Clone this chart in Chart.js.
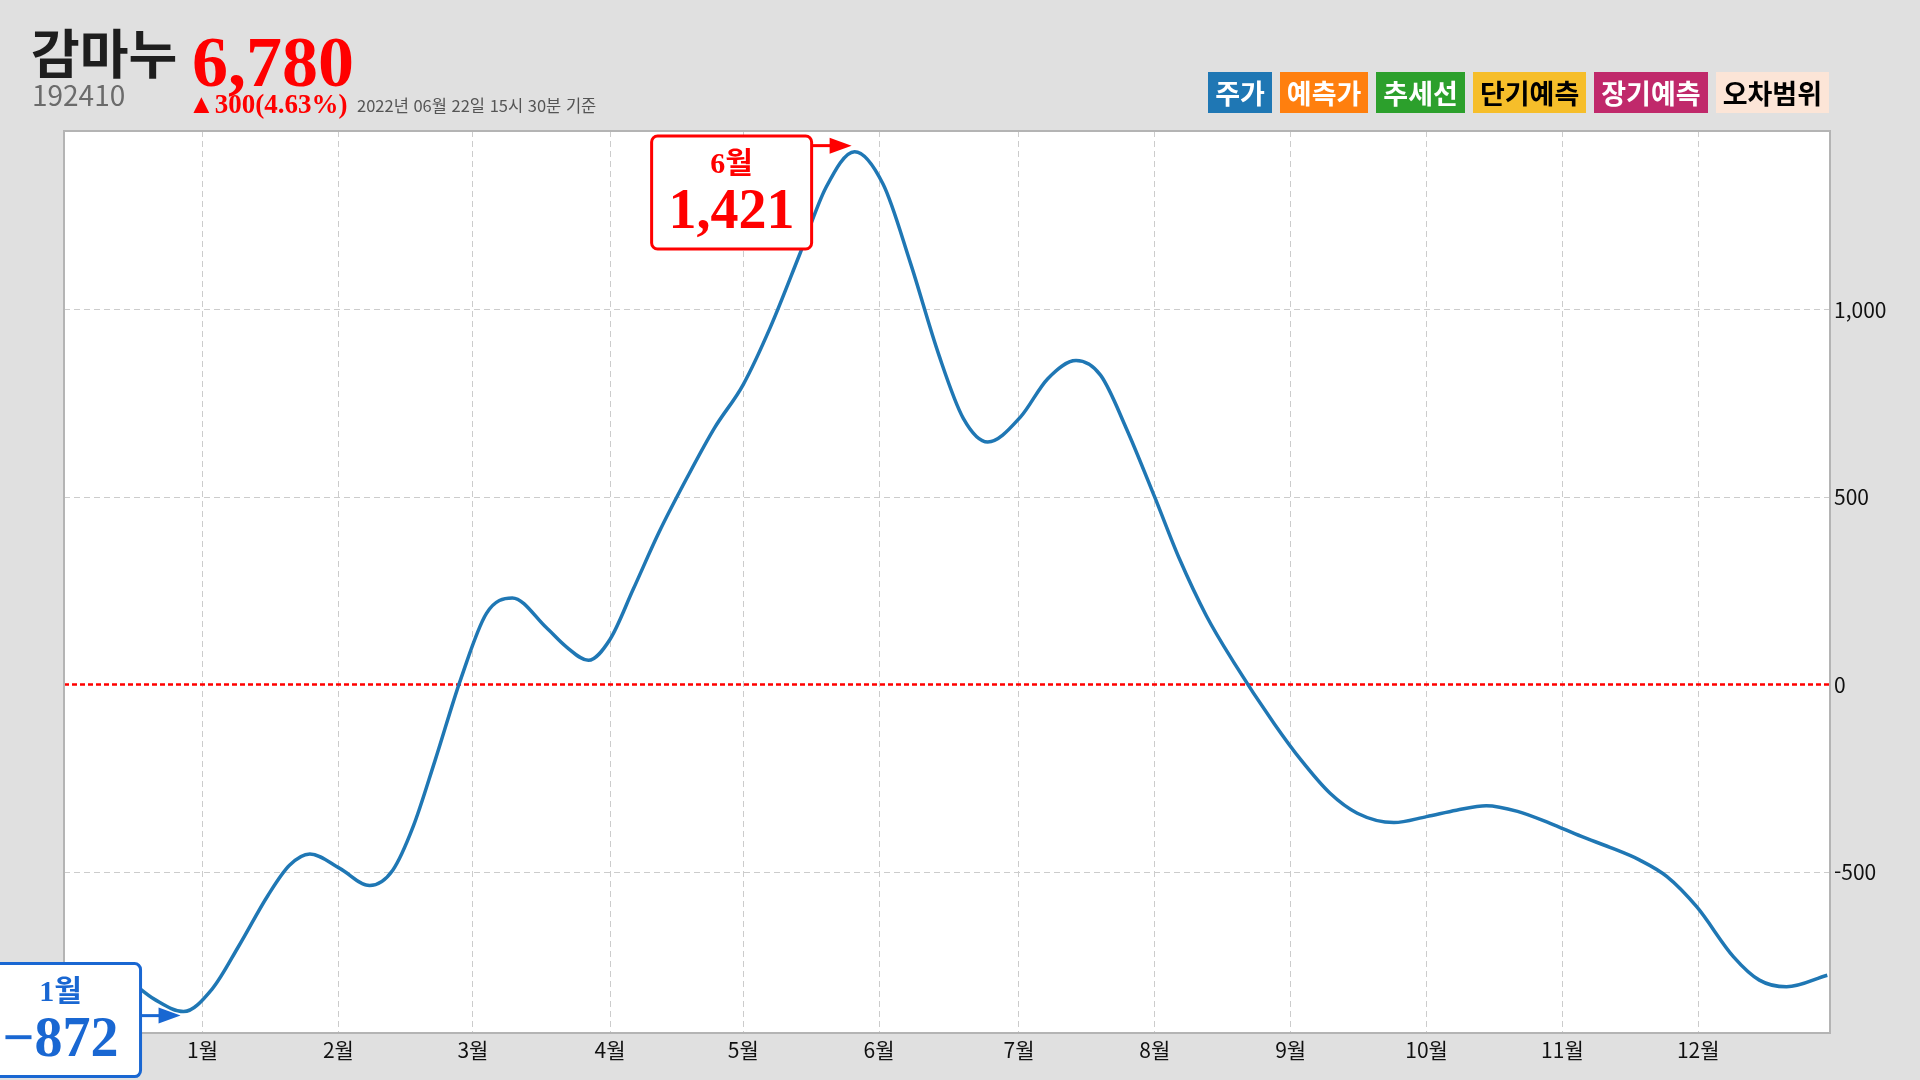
<!DOCTYPE html>
<html lang="ko">
<head>
<meta charset="utf-8">
<title>감마누 192410</title>
<script src="https://cdn.jsdelivr.net/npm/chart.js@4.4.1/dist/chart.umd.min.js"></script>
<style>
    html, body { margin: 0; padding: 0; background: #e0e0e0; }
    #wrap { position: relative; width: 1920px; height: 1080px; overflow: hidden;
            font-family: "Noto Sans CJK KR", "Noto Sans", sans-serif; }
    #chart { position: absolute; left: 0; top: 0; }
    .abs { position: absolute; white-space: nowrap; line-height: 1; }
    #name { left: 31px; top: 25px; font-size: 53px; font-weight: 700; color: #1e1e1e; }
    #code { left: 32px; top: 80px; font-size: 28px; color: #6b6b6b; }
    #price { left: 192px; top: 21px; font: bold 72px "Liberation Serif", serif; color: #ff0000; }
    #change { left: 188px; top: 89px; font: bold 27px "Liberation Serif", serif; color: #ff0000; }
    #stamp { left: 357px; top: 97px; font-size: 16.5px; color: #555555; }
    #legend { position: absolute; right: 91px; top: 72px; display: flex; gap: 8px; }
    #legend span { height: 41px; line-height: 41px; padding: 0 7px; font-size: 27px; font-weight: 700; }
</style>
</head>
<body>
<div id="wrap">
    <canvas id="chart" width="1920" height="1080"></canvas>
    <div class="abs" id="name">감마누</div>
    <div class="abs" id="code">192410</div>
    <div class="abs" id="price">6,780</div>
    <div class="abs" id="change">▲300(4.63%)</div>
    <div class="abs" id="stamp">2022년 06월 22일 15시 30분 기준</div>
    <div id="legend">
        <span style="background:#1f77b4;color:#fff">주가</span>
        <span style="background:#ff7f0e;color:#fff">예측가</span>
        <span style="background:#2ca02c;color:#fff">추세선</span>
        <span style="background:#f6be2a;color:#000">단기예측</span>
        <span style="background:#c0296b;color:#fff">장기예측</span>
        <span style="background:#fce5d7;color:#000">오차범위</span>
    </div>
</div>
<script>
// Month tick positions (x units) and their labels
const monthTicks = [1.02, 2.02, 3.01, 4.02, 5.0, 6.0, 7.03, 8.03, 9.03, 10.03, 11.03, 12.03];
const monthLabels = ['1월', '2월', '3월', '4월', '5월', '6월', '7월', '8월', '9월', '10월', '11월', '12월'];
const yTicks = [-500, 0, 500, 1000];

// Series (x in month units)
const xPos = [0, 0.2, 0.45, 0.67, 0.88, 1.09, 1.29, 1.5, 1.66, 1.81, 2.03, 2.25, 2.42, 2.57,
    2.73, 2.92, 3.11, 3.3, 3.55, 3.7, 3.86, 4.02, 4.19, 4.38, 4.59, 4.79, 5.0, 5.2,
    5.41, 5.61, 5.82, 6.03, 6.23, 6.44, 6.62, 6.8, 7.04, 7.24, 7.45, 7.63, 7.82,
    8.03, 8.21, 8.41, 8.61, 8.91, 9.11, 9.32, 9.52, 9.79, 10.03, 10.25, 10.47,
    10.7, 10.94, 11.17, 11.38, 11.6, 11.8, 12.02, 12.29, 12.48, 12.68, 12.98];
const values = [-750, -745, -782, -840, -872, -812, -695, -563, -482, -452, -490, -536, -495, -379,
    -204, 14, 190, 231, 152, 100, 65, 121, 254, 406, 554, 685, 800, 953,
    1142, 1326, 1421, 1334, 1125, 879, 710, 647, 713, 815, 864, 825, 683,
    499, 336, 183, 60, -105, -203, -290, -343, -368, -352, -335, -323,
    -338, -370, -405, -434, -468, -512, -593, -726, -788, -806, -775];

const Y_MIN = -929;
const Y_MAX = 1476;

function nearestMonth(x) {
    let best = 0;
    monthTicks.forEach((t, i) => {
        if (Math.abs(t - x) < Math.abs(monthTicks[best] - x)) best = i;
    });
    return monthLabels[best];
}

// Callout box with arrow pointing at a data point
function drawCallout(chart, idx, color, arrowDy) {
    const ctx = chart.ctx;
    const px = chart.scales.x.getPixelForValue(xPos[idx]);
    const py = chart.scales.y.getPixelForValue(values[idx]);
    const w = 160, h = 113;
    const right = px - 43;
    const left = right - w;
    const top = Math.max(py - 48, chart.chartArea.top + 5);
    const ay = py + arrowDy;

    ctx.save();
    ctx.strokeStyle = color;
    ctx.fillStyle = color;
    ctx.lineWidth = 3;
    ctx.beginPath();
    ctx.moveTo(right, ay);
    ctx.lineTo(px - 24, ay);
    ctx.stroke();
    ctx.beginPath();
    ctx.moveTo(px - 25, ay - 8);
    ctx.lineTo(px - 3, ay);
    ctx.lineTo(px - 25, ay + 8);
    ctx.closePath();
    ctx.fill();

    ctx.beginPath();
    ctx.roundRect(left, top, w, h, 6);
    ctx.fillStyle = '#ffffff';
    ctx.fill();
    ctx.stroke();

    const cx = left + w / 2;
    ctx.fillStyle = color;
    ctx.textAlign = 'center';
    ctx.textBaseline = 'alphabetic';
    ctx.font = 'bold 30px "Liberation Serif", "Noto Sans CJK KR", serif';
    ctx.fillText(nearestMonth(xPos[idx]), cx, top + 37);
    ctx.font = 'bold 56px "Liberation Serif", serif';
    const v = values[idx];
    const txt = (v < 0 ? '\u2212' : '') + Math.abs(v).toLocaleString('en-US');
    ctx.fillText(txt, cx, top + 92);
    ctx.restore();
}

const plotDecor = {
    id: 'plotDecor',
    beforeDraw(chart) {
        const { ctx, chartArea: a } = chart;
        ctx.save();
        ctx.fillStyle = '#ffffff';
        ctx.fillRect(a.left, a.top, a.right - a.left, a.bottom - a.top);
        ctx.restore();
    },
    beforeDatasetsDraw(chart) {
        const { ctx, chartArea: a } = chart;
        const y0 = chart.scales.y.getPixelForValue(0);
        ctx.save();
        ctx.strokeStyle = '#ff0000';
        ctx.lineWidth = 2.5;
        ctx.setLineDash([5, 3]);
        ctx.beginPath();
        ctx.moveTo(a.left, y0);
        ctx.lineTo(a.right, y0);
        ctx.stroke();
        ctx.setLineDash([]);
        ctx.strokeStyle = '#b4b4b4';
        ctx.lineWidth = 2;
        ctx.strokeRect(a.left, a.top, a.right - a.left, a.bottom - a.top);
        ctx.restore();
    },
    afterDraw(chart) {
        const iMax = values.indexOf(Math.max(...values));
        const iMin = values.indexOf(Math.min(...values));
        drawCallout(chart, iMax, '#ff0000', -6);
        drawCallout(chart, iMin, '#1967d2', 4);
    }
};

new Chart(document.getElementById('chart'), {
    type: 'line',
    data: {
        datasets: [{
            label: '주가',
            data: xPos.map((x, i) => ({ x: x, y: values[i] })),
            borderColor: '#1f77b4',
            borderWidth: 3.5,
            pointRadius: 0,
            fill: false,
            cubicInterpolationMode: 'monotone'
        }]
    },
    options: {
        responsive: false,
        animation: false,
        devicePixelRatio: 1,
        layout: { padding: { left: 64, top: 131, right: 0, bottom: 0 } },
        plugins: {
            legend: { display: false },
            tooltip: { enabled: false }
        },
        scales: {
            x: {
                type: 'linear',
                min: 0,
                max: 13,
                afterBuildTicks: (scale) => { scale.ticks = monthTicks.map(v => ({ value: v })); },
                afterFit: (scale) => { scale.height = 47; },
                ticks: {
                    autoSkip: false,
                    maxRotation: 0,
                    padding: 4,
                    color: '#111111',
                    font: { family: '"Noto Sans CJK KR", sans-serif', size: 21 },
                    callback: (value, index) => monthLabels[index]
                },
                grid: { color: '#cccccc', lineWidth: 1, drawTicks: false },
                border: { display: false, dash: [6, 4] }
            },
            y: {
                position: 'right',
                min: Y_MIN,
                max: Y_MAX,
                afterBuildTicks: (scale) => { scale.ticks = yTicks.map(v => ({ value: v })); },
                afterFit: (scale) => { scale.width = 90; },
                ticks: {
                    padding: 4,
                    color: '#111111',
                    font: { family: '"Noto Sans CJK KR", sans-serif', size: 21 },
                    callback: (value) => value.toLocaleString('en-US')
                },
                grid: {
                    color: (c) => (c.tick && c.tick.value === 0) ? 'rgba(0,0,0,0)' : '#cccccc',
                    lineWidth: 1,
                    drawTicks: false
                },
                border: { display: false, dash: [6, 4] }
            }
        }
    },
    plugins: [plotDecor]
});
</script>
</body>
</html>
